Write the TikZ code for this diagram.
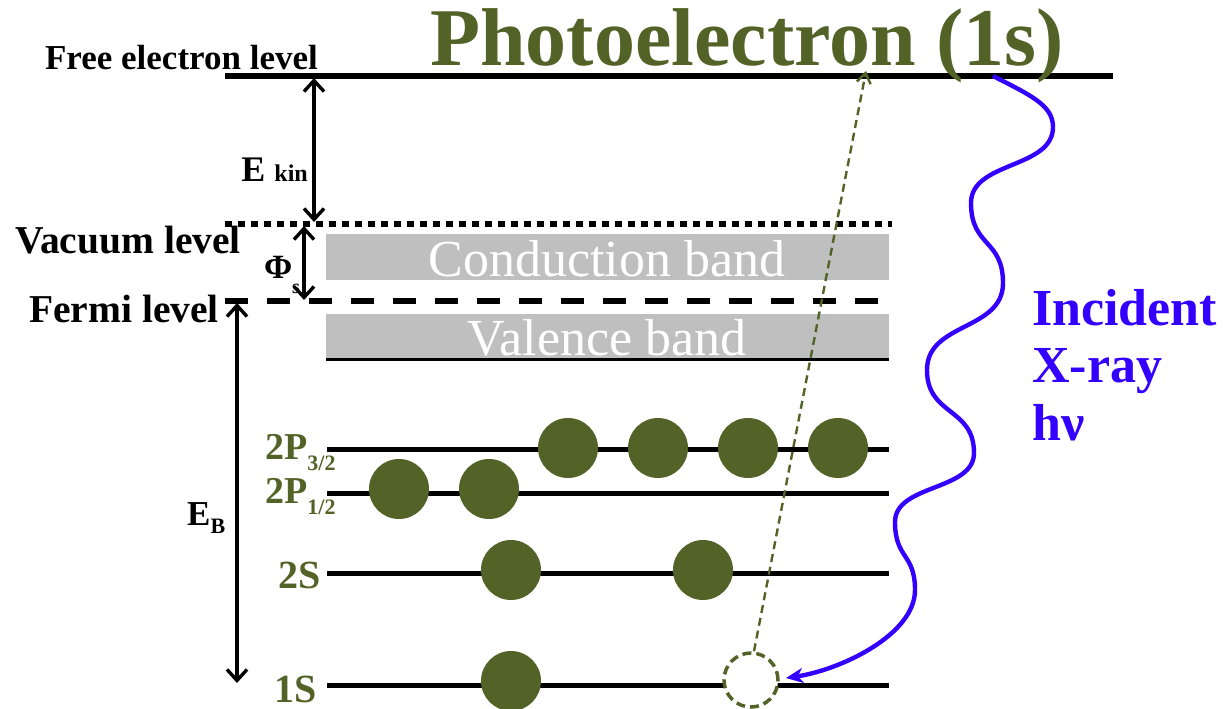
\documentclass[tikz,border=0pt]{standalone}
\usepackage{fontspec}
\setmainfont{Liberation Serif}
\usetikzlibrary{arrows.meta}
\definecolor{olivec}{RGB}{83,98,38}
\definecolor{xblue}{RGB}{51,0,255}
\definecolor{bandgray}{RGB}{191,191,191}
\newcommand\myfs[1]{\fontsize{#1}{#1}\selectfont}
\tikzset{
  lvl/.style={line width=5pt},
  dim/.style={line width=3.4pt,{Straight Barb[length=11pt,width=20pt,line width=3.4pt]}-{Straight Barb[length=11pt,width=20pt,line width=3.4pt]}},
  lbl/.style={inner sep=0pt,font=\bfseries},
  elec/.style={fill=olivec,draw=none},
  band/.style={fill=bandgray,draw=none},
  bandtxt/.style={inner sep=0pt,text=white},
  olbl/.style={inner sep=0pt,font=\bfseries,text=olivec},
}
\begin{document}
\begin{tikzpicture}[x=1pt,y=-1pt]
\useasboundingbox (0,0) rectangle (1223,709);
% bands
\fill[band] (326,234) rectangle (889,280);
\fill[band] (326,314) rectangle (889,358);
\node[bandtxt] (cb) at (607,259) {\myfs{52}Conduction band};
\node[bandtxt] (vb) at (607,338) {\myfs{52}Valence band};
\draw[line width=3.5pt] (326,359.5) -- (889,359.5);
% levels
\draw[lvl] (225,76) -- (1113,76);
\draw[line width=6pt,dash pattern=on 7pt off 6pt] (225,224) -- (892,224);
\draw[line width=6pt,dash pattern=on 23pt off 19pt] (225,301) -- (882,301);
\draw[lvl] (327,449) -- (889,449);
\draw[lvl] (327,493) -- (889,493);
\draw[lvl] (327,573) -- (889,573);
\draw[lvl] (327,685) -- (889,685);
% labels
\node[olbl,anchor=base west] (title) at (430,66) {\myfs{82}Photoelectron (1s)};
\node[lbl,anchor=base east] (free) at (318,70) {\myfs{35}Free electron level};
\node[lbl,anchor=base west] (vac) at (15,253) {\myfs{39.5}Vacuum level};
\node[lbl,anchor=base east] (fermi) at (219,322) {\myfs{39.5}Fermi level};
\node[lbl,anchor=base east] (ekin) at (308,181) {\myfs{36}E \myfs{24}kin};
\node[lbl,anchor=base west] (phi) at (264,278) {\myfs{34}Φ};
\node[lbl,anchor=base west] (phis) at (292,293) {\myfs{20}s};
\node[lbl,anchor=base west] (eb) at (187,525) {\myfs{35}E\raisebox{-8pt}{\myfs{22}B}};
\node[olbl,anchor=base west] (p32) at (265,459) {\myfs{38}2P\raisebox{-11pt}{\myfs{22}3/2}};
\node[olbl,anchor=base west] (p12) at (265,503) {\myfs{38}2P\raisebox{-11pt}{\myfs{22}1/2}};
\node[olbl,anchor=base east] (s2) at (321,588) {\myfs{40}2S};
\node[olbl,anchor=base east] (s1) at (317,702) {\myfs{40}1S};
\node[lbl,text=xblue,anchor=base west] (inc) at (1032,325) {\myfs{52}Incident};
\node[lbl,text=xblue,anchor=base west] (xr) at (1032,382) {\myfs{52}X-ray};
\node[lbl,text=xblue,anchor=base west] (hv) at (1032,440) {\myfs{52}hν};
% dimension arrows
\coordinate (k1) at (314,78); \coordinate (k2) at (314,222);
\coordinate (f1) at (304,226); \coordinate (f2) at (304,300);
\coordinate (b1) at (237,303); \coordinate (b2) at (237,683);
\draw[dim] (k1) -- (k2);
\draw[dim] (f1) -- (f2);
\draw[dim] (b1) -- (b2);
% electrons
\foreach \n/\x/\y in {a/568/448,b/658/448,c/748/448,d/838/448,e/399/489,f/489/489,g/511/570,h/703/570,i/511/681}
  \fill[elec] (\x,\y) circle[radius=30] coordinate (e\n);
% wave
\coordinate (w0) at (993,76);
\coordinate (wt) at (786,678);
\draw[xblue,line width=4.4pt,-{Stealth[length=17pt,width=15pt,inset=5pt]}]
  (w0) .. controls (1030,95) and (1053,105) .. (1053,127)
  .. controls (1053,169) and (971,161) .. (971,203)
  .. controls (971,247) and (1003,239) .. (1003,283)
  .. controls (1003,331) and (927,322) .. (927,370)
  .. controls (927,416) and (974,407) .. (974,453)
  .. controls (974,491) and (895,484) .. (895,522)
  .. controls (895,559) and (915,553) .. (915,590)
  .. controls (915,635) and (840,670) .. (wt);
% hole and emitted electron
\node[circle,draw=olivec,fill=white,line width=3.5pt,dash pattern=on 9pt off 5pt,minimum size=54pt,inner sep=0pt] (hole) at (751,680) {};
\coordinate (top) at (866,71);
\draw[olivec,line width=2.4pt,dash pattern=on 8pt off 5pt,-{Straight Barb[length=10pt,width=14pt,line width=2.4pt]}] (hole.north) ++(3,0) -- (top);
\end{tikzpicture}
\end{document}
